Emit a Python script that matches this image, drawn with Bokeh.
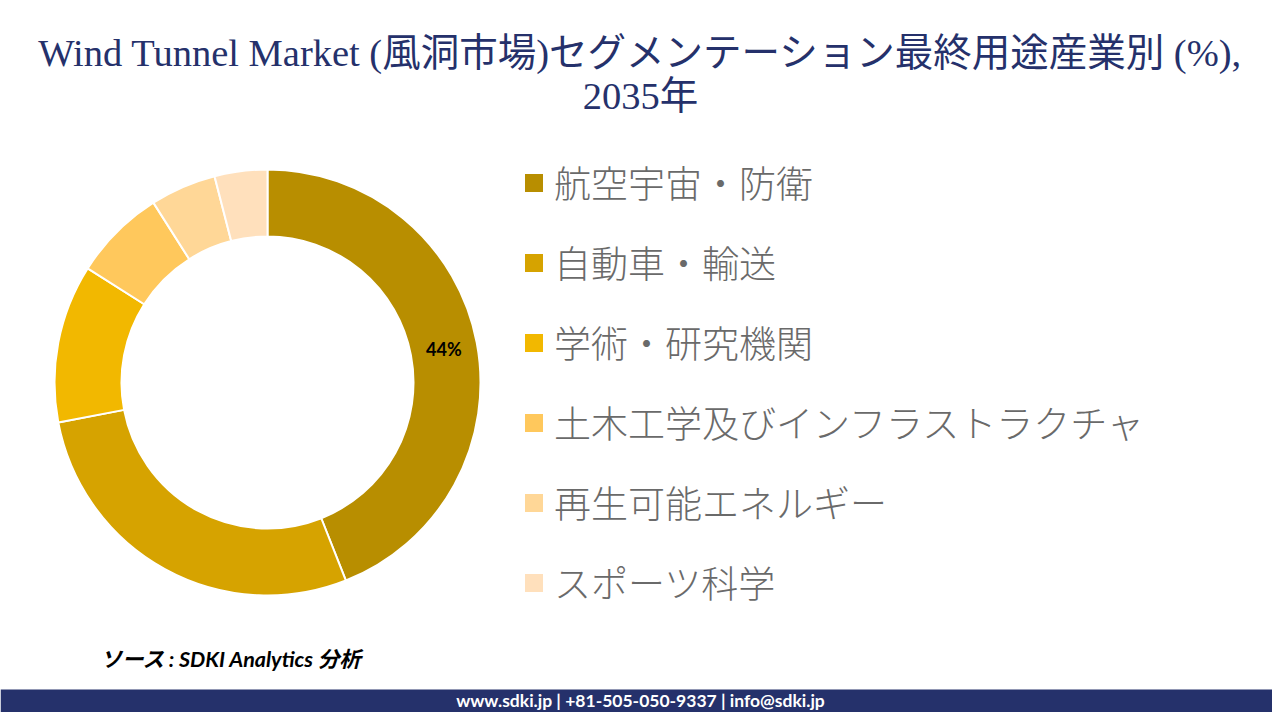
import math
from bokeh.plotting import figure
from bokeh.core.properties import value
from bokeh.models import Range1d, Legend, LegendItem, ColumnDataSource, Label
from bokeh.embed import file_html
from bokeh.resources import INLINE

categories = ["航空宇宙・防衛", "自動車・輸送", "学術・研究機関", "土木工学及びインフラストラクチャ", "再生可能エネルギー", "スポーツ科学"]
values = [44, 28, 12, 7, 5, 4]
colors = ["#B88E00", "#D6A300", "#F2B800", "#FFC85C", "#FFD797", "#FFE0BC"]
shown_labels = ["44%", "", "", "", "", ""]
title_lines = ["Wind Tunnel Market (風洞市場)セグメンテーション最終用途産業別 (%),", "2035年"]
source_text = "ソース : SDKI Analytics 分析"
footer_text = "www.sdki.jp | +81-505-050-9337 | info@sdki.jp"

W, H = 1272, 712
NAVY = "#25316B"
SERIF = "'Liberation Serif', 'Noto Sans CJK JP'"
SANS = "Lato, 'Noto Sans CJK JP'"

def Y(px):
    return H - px

p = figure(width=W, height=H, output_backend="svg", toolbar_location=None,
           x_range=Range1d(0, W), y_range=Range1d(0, H),
           min_border=0, outline_line_color=None, background_fill_color="white")
p.xaxis.visible = False
p.yaxis.visible = False
p.grid.visible = False

cx, cy, r_out, r_in = 267, Y(382), 213, 146
total = sum(values)
starts, ends, lx, ly = [], [], [], []
acc = 0
for v in values:
    a0 = math.pi / 2 - 2 * math.pi * acc / total
    a1 = math.pi / 2 - 2 * math.pi * (acc + v) / total
    starts.append(a1)
    ends.append(a0)
    mid = (a0 + a1) / 2
    rm = (r_out + r_in) / 2
    lx.append(cx + rm * math.cos(mid))
    ly.append(cy + rm * math.sin(mid))
    acc += v

src = ColumnDataSource(dict(start=starts, end=ends, color=colors, cat=categories,
                            lx=lx, ly=ly, label=shown_labels))
r = p.annular_wedge(x=cx, y=cy, inner_radius=r_in, outer_radius=r_out,
                    start_angle="start", end_angle="end", fill_color="color",
                    line_color="white", line_width=2, source=src)
p.text(x="lx", y="ly", text="label", source=src, text_align="center", text_baseline="middle",
       text_font=value(SANS), text_font_style="bold", text_font_size="18px", text_color="black")

legend = Legend(items=[LegendItem(label=c, renderers=[r], index=i) for i, c in enumerate(categories)],
                location=(521, H - 609), orientation="vertical",
                background_fill_alpha=0, border_line_alpha=0,
                glyph_width=25, glyph_height=25, label_height=40, spacing=26,
                label_standoff=8, margin=0, padding=0,
                label_text_font="'Noto Sans CJK JP Light', 'Noto Sans CJK JP'",
                label_text_font_size="37px", label_text_color="#6A6A6A",
                label_text_baseline="middle")
p.add_layout(legend)

for line, y_px in zip(title_lines, [52, 95]):
    p.add_layout(Label(x=640, y=Y(y_px), text=line, text_align="center", text_baseline="middle",
                       text_font=SERIF, text_font_size="38.5px", text_color=NAVY))

p.add_layout(Label(x=100, y=Y(658), text=source_text, text_align="left", text_baseline="middle",
                   text_font=SANS, text_font_style="bold italic", text_font_size="21.5px", text_color="black"))

p.quad(left=0, right=W, bottom=0, top=Y(689), fill_color=NAVY, line_color=None)
p.add_layout(Label(x=640, y=Y(700), text=footer_text, text_align="center", text_baseline="middle",
                   text_font=SANS, text_font_style="bold", text_font_size="17.5px", text_color="white"))

open("out.html", "w").write(file_html(p, INLINE))
